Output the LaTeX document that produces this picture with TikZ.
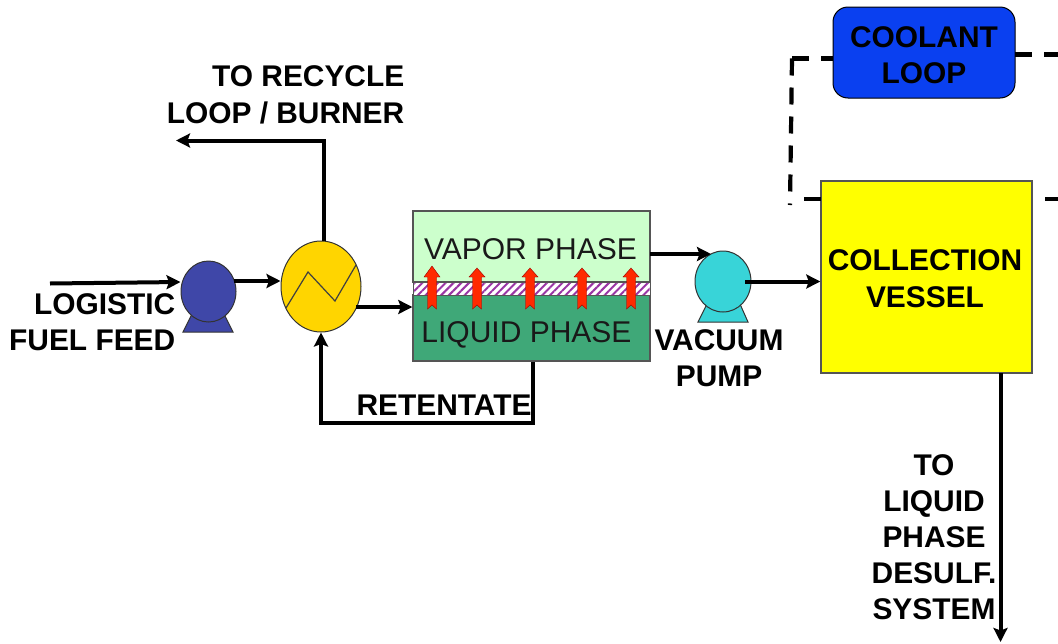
\documentclass[tikz,border=0pt]{standalone}
\usepackage{fontspec}
\setmainfont{Liberation Sans}
\usetikzlibrary{shapes.geometric,arrows.meta,patterns.meta,calc}
\definecolor{pumpblue}{HTML}{3F47A8}
\definecolor{hxyellow}{HTML}{FFD500}
\definecolor{vaporgreen}{HTML}{CCFFCC}
\definecolor{liquidgreen}{HTML}{3FA878}
\definecolor{pumpcyan}{HTML}{38D4D8}
\definecolor{coolblue}{HTML}{0A40F0}
\definecolor{vesselyellow}{HTML}{FFFF00}
\definecolor{redarrow}{HTML}{FF2A00}
\definecolor{hatchpurple}{HTML}{9A35A5}
\definecolor{edgegray}{HTML}{555555}
\tikzset{
  x=1pt,y=-1pt,
  lbl/.style={font=\bfseries\fontsize{29.9}{36.5}\selectfont,inner sep=0pt,text=black},
  phase/.style={font=\fontsize{30}{36}\selectfont,inner sep=0pt,text=black!90},
  equip/.style={draw=black!80,line width=1pt,inner sep=0pt},
  box/.style={draw=edgegray,line width=1.4pt,rectangle,inner sep=0pt},
  flow/.style={line width=4pt,draw=black,-{Stealth[length=14pt,width=14pt,inset=2.5pt]}},
  plain/.style={line width=4pt,draw=black},
  dashline/.style={line width=4.2pt,draw=black,dash pattern=on 17pt off 12pt},
}
\newcommand{\redarrow}[2]{%
  \fill[redarrow,draw=red!60!black,line width=.4pt] (#1,#2) -- (#1+8,277) -- (#1+4.5,277) -- (#1+4.5,309) -- (#1,305) -- (#1-4.5,309) -- (#1-4.5,277) -- (#1-8,277) -- cycle;}
\begin{document}
\begin{tikzpicture}
\useasboundingbox (0,0) rectangle (1058,643);
\fill[white] (0,0) rectangle (1058,643);

% pump 1
\draw[equip,fill=pumpblue] (192,314) -- (183,332) -- (233,332) -- (224,314) -- cycle;
\node[equip,ellipse,fill=pumpblue,minimum width=55pt,minimum height=61pt] (pumpa) at (208.5,291.5) {};
% heat exchanger
\node[equip,ellipse,fill=hxyellow,minimum width=80pt,minimum height=91pt] (hx) at (321,286.5) {};
\draw[line width=1.2pt,black!75] (286,308) -- (308,272) -- (335,301) -- (356,265);
% membrane module
\node[box,fill=vaporgreen,minimum width=237pt,minimum height=71pt] (vapor) at (531.5,246.5) {};
\node[box,fill=liquidgreen,minimum width=237pt,minimum height=66pt] (liquid) at (531.5,328) {};
\fill[white] (413.5,282) rectangle (649.5,295);
\fill[pattern={Lines[angle=45,distance=5.5pt,line width=2pt]},pattern color=hatchpurple] (413.5,282) rectangle (649.5,295);
\draw[edgegray,line width=1pt] (413,282) rectangle (650,295);
\node[phase] (vaportext) at (530.5,249) {VAPOR PHASE};
\node[phase] (liquidtext) at (526.5,335) {LIQUID PHASE};
\redarrow{432}{266}
\redarrow{477}{268}
\redarrow{530}{268}
\redarrow{582}{268}
\redarrow{631}{268}
% pump 2
\draw[equip,fill=pumpcyan] (707,304) -- (698,322) -- (748,322) -- (740,304) -- cycle;
\node[equip,ellipse,fill=pumpcyan,minimum width=56pt,minimum height=61pt] (pumpb) at (723,281.5) {};
% coolant and vessel
\node[draw=black,line width=1pt,rectangle,rounded corners=15pt,fill=coolblue,minimum width=182pt,minimum height=91pt,inner sep=0pt] (coolant) at (924,52.5) {};
\node[box,fill=vesselyellow,minimum width=211pt,minimum height=192pt] (vessel) at (926.5,277) {};

% free ends and bends
\coordinate (feedstart) at (50,283.5);
\coordinate (recycleend) at (176,140.5);
\coordinate (recyclebend) at (323.5,140.5);
\coordinate (retbend) at (532.5,422.5);
\coordinate (retbendb) at (321,422.5);
\coordinate (hxout) at (356,307);
\coordinate (vapout) at (650,254);
\coordinate (vapin) at (711,254);
\coordinate (pumpbout) at (745,281.5);
\coordinate (pumpaout) at (234,281);
\coordinate (vesselout) at (1000.5,373);
\coordinate (bottomend) at (1000.5,642);
\coordinate (dashcorner) at (792,58.5);
\coordinate (dashend) at (790,205);
\coordinate (coolleft) at (833,58.5);
\coordinate (coolright) at (1015,54.5);
\coordinate (edgetop) at (1058,54.5);
\coordinate (stub) at (804,199);
\coordinate (vesselleft) at (821,199);
\coordinate (vesselright) at (1032,199);
\coordinate (edgelow) at (1058,199);

% connectors
\draw[flow] (feedstart) -- (pumpa.west |- 0,282);
\draw[flow] (pumpaout) -- (hx.west |- pumpaout);
\draw[flow] (hx.north -| recyclebend) -- (recyclebend) -- (recycleend);
\draw[flow] (hxout) -- (liquid.west |- hxout);
\draw[flow] (vapout) -- (vapin);
\draw[flow] (pumpbout) -- (vessel.west |- pumpbout);
\draw[flow] (liquid.south -| retbend) -- (retbend) -- (retbendb) -- (hx.south -| retbendb);
\draw[flow] (vesselout) -- (bottomend);
\draw[dashline] (dashcorner) -- (coolleft);
\draw[dashline] (dashcorner) -- (dashend);
\draw[dashline] (coolright) -- (edgetop);
\draw[plain] (stub) -- (vesselleft);
\draw[line width=4.2pt,dash pattern=on 13pt off 13pt] (edgelow) -- (vesselright);

% labels
\node[lbl,align=right,anchor=east] (recyclelabel) at (404.5,95) {TO RECYCLE\\LOOP / BURNER};
\node[lbl,align=right,anchor=east] (feedlabel) at (175.5,322) {LOGISTIC\\FUEL FEED};
\node[lbl] (retlabel) at (444,405) {RETENTATE};
\node[lbl,align=center] (pumplabel) at (719,358) {VACUUM\\PUMP};
\node[lbl,align=center] (coolantlabel) at (924,55) {COOLANT\\LOOP};
\node[lbl,align=center] (vessellabel) at (925,278.5) {COLLECTION\\VESSEL};
\node[lbl,align=center,font=\bfseries\fontsize{29.9}{36}\selectfont] (desulflabel) at (934,537) {TO\\LIQUID\\PHASE\\DESULF.\\SYSTEM};
\end{tikzpicture}
\end{document}
